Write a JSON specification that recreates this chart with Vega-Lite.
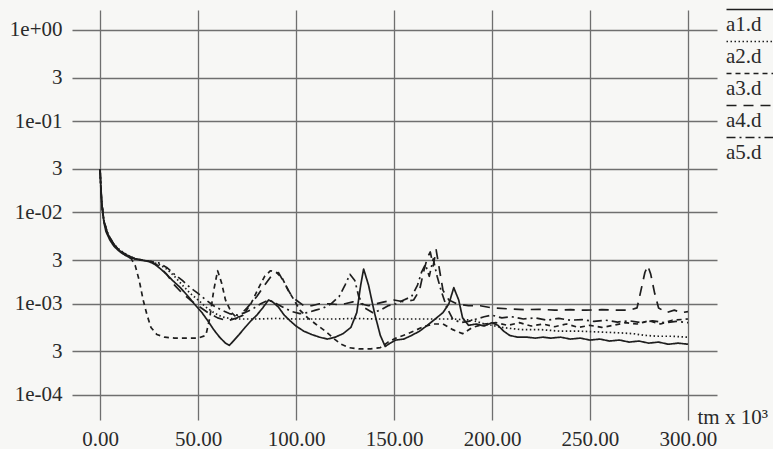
{
"$schema":"https://vega.github.io/schema/vega-lite/v6.json",
"width":645,"height":410,
"autosize":{"type":"none"},
"padding":{"left":72,"top":10,"right":56,"bottom":29},
"background":"#f7f7f5",
"config":{
"view":{"stroke":null},
"font":"Liberation Serif, DejaVu Serif, serif",
"style":{"guide-label":{"font":"Liberation Serif, DejaVu Serif, serif","fontSize":21},"guide-title":{"font":"Liberation Serif, DejaVu Serif, serif","fontSize":21,"fontWeight":"normal"}},
"axis":{"labelFont":"Liberation Serif, DejaVu Serif, serif","titleFont":"Liberation Serif, DejaVu Serif, serif","labelFontSize":21,"labelColor":"#2a2a2a","grid":true,"gridColor":"#6f6f6f","gridWidth":1.3,"gridOpacity":1,"domain":false,"ticks":false,"labelFlush":false,"labelOverlap":false,"labelBound":false},
"legend":{"orient":"none","legendX":649,"legendY":-7,"symbolType":"M-1,-0.8H9","symbolSize":100,"symbolStrokeWidth":1.5,"symbolStrokeColor":"#1e1e1e","labelBaseline":"top","labelOffset":-16,"labelFont":"Liberation Serif, DejaVu Serif, serif","labelFontSize":21,"labelColor":"#2a2a2a","rowPadding":0,"padding":0}
},
"data":{"values":[
{"s":"a1.d","t":0,"v":0.03},{"s":"a1.d","t":0.5,"v":0.018},{"s":"a1.d","t":1,"v":0.012},{"s":"a1.d","t":2,"v":0.0078},{"s":"a1.d","t":3,"v":0.0062},{"s":"a1.d","t":5,"v":0.005},{"s":"a1.d","t":7,"v":0.0043},{"s":"a1.d","t":9,"v":0.0039},{"s":"a1.d","t":11,"v":0.0036},{"s":"a1.d","t":13,"v":0.0034},{"s":"a1.d","t":15,"v":0.0032},{"s":"a1.d","t":18,"v":0.0031},{"s":"a1.d","t":21,"v":0.003},{"s":"a1.d","t":25,"v":0.0029},{"s":"a1.d","t":28,"v":0.0027},{"s":"a1.d","t":31,"v":0.0024},{"s":"a1.d","t":34,"v":0.0021},{"s":"a1.d","t":37,"v":0.0018},{"s":"a1.d","t":41,"v":0.0015},{"s":"a1.d","t":45,"v":0.0012},{"s":"a1.d","t":48,"v":0.001},{"s":"a1.d","t":52,"v":0.0008},{"s":"a1.d","t":55,"v":0.00065},{"s":"a1.d","t":58,"v":0.00052},{"s":"a1.d","t":61,"v":0.00043},{"s":"a1.d","t":64,"v":0.00037},{"s":"a1.d","t":66,"v":0.00035},{"s":"a1.d","t":68,"v":0.00039},{"s":"a1.d","t":71,"v":0.00046},{"s":"a1.d","t":74,"v":0.00055},{"s":"a1.d","t":77,"v":0.00065},{"s":"a1.d","t":80,"v":0.00075},{"s":"a1.d","t":83,"v":0.0009},{"s":"a1.d","t":86,"v":0.0011},{"s":"a1.d","t":88,"v":0.00105},{"s":"a1.d","t":91,"v":0.00092},{"s":"a1.d","t":94,"v":0.00075},{"s":"a1.d","t":97,"v":0.00065},{"s":"a1.d","t":100,"v":0.00057},{"s":"a1.d","t":104,"v":0.0005},{"s":"a1.d","t":108,"v":0.00046},{"s":"a1.d","t":112,"v":0.00043},{"s":"a1.d","t":116,"v":0.00041},{"s":"a1.d","t":120,"v":0.00043},{"s":"a1.d","t":124,"v":0.00047},{"s":"a1.d","t":128,"v":0.00055},{"s":"a1.d","t":131,"v":0.0008},{"s":"a1.d","t":133,"v":0.0016},{"s":"a1.d","t":134.5,"v":0.0024},{"s":"a1.d","t":137,"v":0.0016},{"s":"a1.d","t":140,"v":0.0008},{"s":"a1.d","t":143,"v":0.00045},{"s":"a1.d","t":145.5,"v":0.00034},{"s":"a1.d","t":148,"v":0.00037},{"s":"a1.d","t":151,"v":0.0004},{"s":"a1.d","t":155,"v":0.00041},{"s":"a1.d","t":159,"v":0.00045},{"s":"a1.d","t":163,"v":0.0005},{"s":"a1.d","t":167,"v":0.00058},{"s":"a1.d","t":171,"v":0.00068},{"s":"a1.d","t":175,"v":0.0008},{"s":"a1.d","t":178,"v":0.001},{"s":"a1.d","t":180.5,"v":0.0015},{"s":"a1.d","t":183,"v":0.0011},{"s":"a1.d","t":185,"v":0.0007},{"s":"a1.d","t":188,"v":0.00058},{"s":"a1.d","t":192,"v":0.0006},{"s":"a1.d","t":196,"v":0.00057},{"s":"a1.d","t":200,"v":0.00062},{"s":"a1.d","t":203,"v":0.00058},{"s":"a1.d","t":206,"v":0.0005},{"s":"a1.d","t":209,"v":0.00045},{"s":"a1.d","t":213,"v":0.00043},{"s":"a1.d","t":218,"v":0.00043},{"s":"a1.d","t":222,"v":0.00042},{"s":"a1.d","t":226,"v":0.00043},{"s":"a1.d","t":230,"v":0.00042},{"s":"a1.d","t":235,"v":0.00043},{"s":"a1.d","t":240,"v":0.00041},{"s":"a1.d","t":245,"v":0.00042},{"s":"a1.d","t":250,"v":0.0004},{"s":"a1.d","t":255,"v":0.00041},{"s":"a1.d","t":260,"v":0.00039},{"s":"a1.d","t":265,"v":0.0004},{"s":"a1.d","t":270,"v":0.00038},{"s":"a1.d","t":275,"v":0.00039},{"s":"a1.d","t":280,"v":0.00037},{"s":"a1.d","t":285,"v":0.00038},{"s":"a1.d","t":290,"v":0.00036},{"s":"a1.d","t":295,"v":0.00037},{"s":"a1.d","t":300,"v":0.00036},
{"s":"a2.d","t":0,"v":0.03},{"s":"a2.d","t":0.5,"v":0.017},{"s":"a2.d","t":1,"v":0.012},{"s":"a2.d","t":2,"v":0.008},{"s":"a2.d","t":4,"v":0.0058},{"s":"a2.d","t":7,"v":0.0045},{"s":"a2.d","t":10,"v":0.0039},{"s":"a2.d","t":14,"v":0.0034},{"s":"a2.d","t":18,"v":0.0031},{"s":"a2.d","t":22,"v":0.003},{"s":"a2.d","t":26,"v":0.0029},{"s":"a2.d","t":30,"v":0.0027},{"s":"a2.d","t":34,"v":0.0024},{"s":"a2.d","t":38,"v":0.002},{"s":"a2.d","t":42,"v":0.0016},{"s":"a2.d","t":46,"v":0.0013},{"s":"a2.d","t":50,"v":0.0011},{"s":"a2.d","t":54,"v":0.00092},{"s":"a2.d","t":58,"v":0.0008},{"s":"a2.d","t":62,"v":0.00072},{"s":"a2.d","t":66,"v":0.00069},{"s":"a2.d","t":70,"v":0.00068},{"s":"a2.d","t":80,"v":0.00068},{"s":"a2.d","t":90,"v":0.00069},{"s":"a2.d","t":100,"v":0.00068},{"s":"a2.d","t":110,"v":0.00068},{"s":"a2.d","t":120,"v":0.00068},{"s":"a2.d","t":130,"v":0.00069},{"s":"a2.d","t":140,"v":0.00068},{"s":"a2.d","t":150,"v":0.00068},{"s":"a2.d","t":160,"v":0.00068},{"s":"a2.d","t":170,"v":0.00068},{"s":"a2.d","t":180,"v":0.00068},{"s":"a2.d","t":190,"v":0.00066},{"s":"a2.d","t":196,"v":0.0006},{"s":"a2.d","t":200,"v":0.00058},{"s":"a2.d","t":205,"v":0.00055},{"s":"a2.d","t":215,"v":0.00052},{"s":"a2.d","t":225,"v":0.00052},{"s":"a2.d","t":235,"v":0.0005},{"s":"a2.d","t":245,"v":0.0005},{"s":"a2.d","t":255,"v":0.00049},{"s":"a2.d","t":265,"v":0.00048},{"s":"a2.d","t":272,"v":0.00047},{"s":"a2.d","t":278,"v":0.00045},{"s":"a2.d","t":285,"v":0.00044},{"s":"a2.d","t":292,"v":0.00044},{"s":"a2.d","t":300,"v":0.00043},
{"s":"a3.d","t":0,"v":0.03},{"s":"a3.d","t":0.5,"v":0.017},{"s":"a3.d","t":1,"v":0.012},{"s":"a3.d","t":2,"v":0.008},{"s":"a3.d","t":4,"v":0.0058},{"s":"a3.d","t":7,"v":0.0045},{"s":"a3.d","t":10,"v":0.0038},{"s":"a3.d","t":13,"v":0.0034},{"s":"a3.d","t":16,"v":0.0031},{"s":"a3.d","t":18,"v":0.0026},{"s":"a3.d","t":20,"v":0.0018},{"s":"a3.d","t":22,"v":0.0011},{"s":"a3.d","t":24,"v":0.00075},{"s":"a3.d","t":26,"v":0.00055},{"s":"a3.d","t":29,"v":0.00046},{"s":"a3.d","t":33,"v":0.00043},{"s":"a3.d","t":38,"v":0.00042},{"s":"a3.d","t":44,"v":0.00042},{"s":"a3.d","t":50,"v":0.00042},{"s":"a3.d","t":54,"v":0.00045},{"s":"a3.d","t":56,"v":0.0007},{"s":"a3.d","t":58,"v":0.0014},{"s":"a3.d","t":60,"v":0.0023},{"s":"a3.d","t":62,"v":0.0017},{"s":"a3.d","t":64,"v":0.0011},{"s":"a3.d","t":67,"v":0.0008},{"s":"a3.d","t":70,"v":0.0007},{"s":"a3.d","t":73,"v":0.00075},{"s":"a3.d","t":77,"v":0.001},{"s":"a3.d","t":81,"v":0.0015},{"s":"a3.d","t":84,"v":0.002},{"s":"a3.d","t":87,"v":0.0023},{"s":"a3.d","t":90,"v":0.0022},{"s":"a3.d","t":93,"v":0.0019},{"s":"a3.d","t":96,"v":0.0014},{"s":"a3.d","t":99,"v":0.0011},{"s":"a3.d","t":102,"v":0.00085},{"s":"a3.d","t":106,"v":0.0007},{"s":"a3.d","t":110,"v":0.0006},{"s":"a3.d","t":115,"v":0.0005},{"s":"a3.d","t":119,"v":0.00042},{"s":"a3.d","t":123,"v":0.00036},{"s":"a3.d","t":127,"v":0.00033},{"s":"a3.d","t":132,"v":0.00032},{"s":"a3.d","t":138,"v":0.00032},{"s":"a3.d","t":143,"v":0.00033},{"s":"a3.d","t":147,"v":0.00038},{"s":"a3.d","t":151,"v":0.00042},{"s":"a3.d","t":156,"v":0.00046},{"s":"a3.d","t":160,"v":0.0005},{"s":"a3.d","t":165,"v":0.00056},{"s":"a3.d","t":170,"v":0.0006},{"s":"a3.d","t":175,"v":0.0006},{"s":"a3.d","t":180,"v":0.00052},{"s":"a3.d","t":185,"v":0.00047},{"s":"a3.d","t":190,"v":0.00055},{"s":"a3.d","t":196,"v":0.0006},{"s":"a3.d","t":202,"v":0.00062},{"s":"a3.d","t":208,"v":0.00058},{"s":"a3.d","t":214,"v":0.00062},{"s":"a3.d","t":220,"v":0.00057},{"s":"a3.d","t":226,"v":0.0006},{"s":"a3.d","t":232,"v":0.00056},{"s":"a3.d","t":238,"v":0.0006},{"s":"a3.d","t":244,"v":0.00055},{"s":"a3.d","t":250,"v":0.00058},{"s":"a3.d","t":256,"v":0.00055},{"s":"a3.d","t":262,"v":0.00058},{"s":"a3.d","t":268,"v":0.00062},{"s":"a3.d","t":274,"v":0.0006},{"s":"a3.d","t":280,"v":0.00065},{"s":"a3.d","t":286,"v":0.0006},{"s":"a3.d","t":292,"v":0.00066},{"s":"a3.d","t":300,"v":0.00068},
{"s":"a4.d","t":0,"v":0.03},{"s":"a4.d","t":0.5,"v":0.017},{"s":"a4.d","t":1,"v":0.012},{"s":"a4.d","t":2,"v":0.008},{"s":"a4.d","t":4,"v":0.0058},{"s":"a4.d","t":7,"v":0.0045},{"s":"a4.d","t":10,"v":0.0038},{"s":"a4.d","t":14,"v":0.0034},{"s":"a4.d","t":18,"v":0.0031},{"s":"a4.d","t":22,"v":0.003},{"s":"a4.d","t":26,"v":0.0029},{"s":"a4.d","t":30,"v":0.0026},{"s":"a4.d","t":34,"v":0.0021},{"s":"a4.d","t":38,"v":0.0016},{"s":"a4.d","t":42,"v":0.0013},{"s":"a4.d","t":46,"v":0.0011},{"s":"a4.d","t":50,"v":0.00095},{"s":"a4.d","t":55,"v":0.0008},{"s":"a4.d","t":60,"v":0.0007},{"s":"a4.d","t":65,"v":0.00065},{"s":"a4.d","t":70,"v":0.0007},{"s":"a4.d","t":75,"v":0.0009},{"s":"a4.d","t":80,"v":0.0012},{"s":"a4.d","t":84,"v":0.0016},{"s":"a4.d","t":88,"v":0.0021},{"s":"a4.d","t":91,"v":0.0022},{"s":"a4.d","t":94,"v":0.0017},{"s":"a4.d","t":97,"v":0.0013},{"s":"a4.d","t":100,"v":0.0011},{"s":"a4.d","t":104,"v":0.00095},{"s":"a4.d","t":108,"v":0.00095},{"s":"a4.d","t":112,"v":0.001},{"s":"a4.d","t":117,"v":0.001},{"s":"a4.d","t":121,"v":0.00098},{"s":"a4.d","t":125,"v":0.001},{"s":"a4.d","t":129,"v":0.00105},{"s":"a4.d","t":133,"v":0.001},{"s":"a4.d","t":137,"v":0.00095},{"s":"a4.d","t":141,"v":0.001},{"s":"a4.d","t":145,"v":0.00105},{"s":"a4.d","t":150,"v":0.0011},{"s":"a4.d","t":155,"v":0.00105},{"s":"a4.d","t":160,"v":0.0011},{"s":"a4.d","t":163,"v":0.0014},{"s":"a4.d","t":165,"v":0.0022},{"s":"a4.d","t":167,"v":0.0032},{"s":"a4.d","t":168.5,"v":0.0037},{"s":"a4.d","t":170,"v":0.0026},{"s":"a4.d","t":171.5,"v":0.0039},{"s":"a4.d","t":173,"v":0.0025},{"s":"a4.d","t":175,"v":0.0014},{"s":"a4.d","t":178,"v":0.0011},{"s":"a4.d","t":182,"v":0.001},{"s":"a4.d","t":188,"v":0.00095},{"s":"a4.d","t":194,"v":0.00095},{"s":"a4.d","t":200,"v":0.0009},{"s":"a4.d","t":208,"v":0.00088},{"s":"a4.d","t":216,"v":0.00086},{"s":"a4.d","t":224,"v":0.00087},{"s":"a4.d","t":232,"v":0.00085},{"s":"a4.d","t":240,"v":0.00086},{"s":"a4.d","t":248,"v":0.00085},{"s":"a4.d","t":256,"v":0.00086},{"s":"a4.d","t":264,"v":0.00085},{"s":"a4.d","t":270,"v":0.00085},{"s":"a4.d","t":274,"v":0.0009},{"s":"a4.d","t":276,"v":0.0014},{"s":"a4.d","t":278,"v":0.0022},{"s":"a4.d","t":279.5,"v":0.0026},{"s":"a4.d","t":281,"v":0.0021},{"s":"a4.d","t":283,"v":0.0013},{"s":"a4.d","t":285,"v":0.0009},{"s":"a4.d","t":289,"v":0.0008},{"s":"a4.d","t":293,"v":0.00085},{"s":"a4.d","t":297,"v":0.0008},{"s":"a4.d","t":300,"v":0.00082},
{"s":"a5.d","t":0,"v":0.03},{"s":"a5.d","t":0.5,"v":0.017},{"s":"a5.d","t":1,"v":0.012},{"s":"a5.d","t":2,"v":0.008},{"s":"a5.d","t":4,"v":0.0058},{"s":"a5.d","t":7,"v":0.0045},{"s":"a5.d","t":10,"v":0.0038},{"s":"a5.d","t":14,"v":0.0034},{"s":"a5.d","t":18,"v":0.0031},{"s":"a5.d","t":22,"v":0.003},{"s":"a5.d","t":26,"v":0.0029},{"s":"a5.d","t":30,"v":0.0028},{"s":"a5.d","t":34,"v":0.0025},{"s":"a5.d","t":38,"v":0.0021},{"s":"a5.d","t":42,"v":0.0018},{"s":"a5.d","t":46,"v":0.0015},{"s":"a5.d","t":50,"v":0.0013},{"s":"a5.d","t":54,"v":0.0011},{"s":"a5.d","t":58,"v":0.00095},{"s":"a5.d","t":62,"v":0.00085},{"s":"a5.d","t":66,"v":0.00078},{"s":"a5.d","t":70,"v":0.00075},{"s":"a5.d","t":74,"v":0.0008},{"s":"a5.d","t":78,"v":0.00088},{"s":"a5.d","t":82,"v":0.001},{"s":"a5.d","t":86,"v":0.0011},{"s":"a5.d","t":90,"v":0.001},{"s":"a5.d","t":94,"v":0.0009},{"s":"a5.d","t":98,"v":0.00082},{"s":"a5.d","t":102,"v":0.00078},{"s":"a5.d","t":106,"v":0.0008},{"s":"a5.d","t":110,"v":0.00085},{"s":"a5.d","t":114,"v":0.0009},{"s":"a5.d","t":118,"v":0.001},{"s":"a5.d","t":122,"v":0.0012},{"s":"a5.d","t":125,"v":0.0016},{"s":"a5.d","t":127.5,"v":0.0021},{"s":"a5.d","t":130,"v":0.0018},{"s":"a5.d","t":132,"v":0.0012},{"s":"a5.d","t":135,"v":0.0009},{"s":"a5.d","t":139,"v":0.0008},{"s":"a5.d","t":143,"v":0.00085},{"s":"a5.d","t":147,"v":0.00095},{"s":"a5.d","t":151,"v":0.001},{"s":"a5.d","t":155,"v":0.0011},{"s":"a5.d","t":159,"v":0.0012},{"s":"a5.d","t":162,"v":0.0016},{"s":"a5.d","t":164,"v":0.0022},{"s":"a5.d","t":166,"v":0.0027},{"s":"a5.d","t":168,"v":0.002},{"s":"a5.d","t":170,"v":0.0031},{"s":"a5.d","t":172,"v":0.002},{"s":"a5.d","t":174,"v":0.0014},{"s":"a5.d","t":177,"v":0.0009},{"s":"a5.d","t":180,"v":0.00068},{"s":"a5.d","t":184,"v":0.00062},{"s":"a5.d","t":188,"v":0.00064},{"s":"a5.d","t":192,"v":0.00068},{"s":"a5.d","t":196,"v":0.00072},{"s":"a5.d","t":200,"v":0.00075},{"s":"a5.d","t":205,"v":0.0007},{"s":"a5.d","t":210,"v":0.00072},{"s":"a5.d","t":216,"v":0.00068},{"s":"a5.d","t":222,"v":0.0007},{"s":"a5.d","t":228,"v":0.00066},{"s":"a5.d","t":234,"v":0.00069},{"s":"a5.d","t":240,"v":0.00066},{"s":"a5.d","t":246,"v":0.00067},{"s":"a5.d","t":252,"v":0.00064},{"s":"a5.d","t":258,"v":0.00066},{"s":"a5.d","t":264,"v":0.00063},{"s":"a5.d","t":270,"v":0.00065},{"s":"a5.d","t":276,"v":0.00062},{"s":"a5.d","t":282,"v":0.00065},{"s":"a5.d","t":288,"v":0.00062},{"s":"a5.d","t":294,"v":0.00064},{"s":"a5.d","t":300,"v":0.00062}
]},
"mark":{"type":"line","color":"#1e1e1e","strokeWidth":1.7,"strokeJoin":"round"},
"encoding":{
"x":{"field":"t","type":"quantitative","scale":{"domain":[-14.3,314.8],"nice":false,"zero":false},
"axis":{"values":[0,50,100,150,200,250,300],"format":".2f","labelPadding":8,"labelFont":"Liberation Serif, DejaVu Serif, serif","labelFontSize":21,"title":"tm x 10³","titleFont":"Liberation Serif, DejaVu Serif, serif","titleFontSize":21,"titleFontWeight":"normal","titleColor":"#2a2a2a","titleX":625,"titleY":3,"titleAlign":"left","titleBaseline":"alphabetic","titleAnchor":"start"}},
"y":{"field":"v","type":"quantitative","scale":{"type":"log","domain":[0.0000532,1.656],"nice":false},
"axis":{"values":[0.0001,0.0003,0.001,0.003,0.01,0.03,0.1,0.3,1],"labelPadding":10,"labelFont":"Liberation Serif, DejaVu Serif, serif","labelFontSize":21,"title":null,
"labelExpr":"datum.value < 0.0002 ? '1e-04' : datum.value < 0.0005 ? '3' : datum.value < 0.002 ? '1e-03' : datum.value < 0.005 ? '3' : datum.value < 0.02 ? '1e-02' : datum.value < 0.05 ? '3' : datum.value < 0.2 ? '1e-01' : datum.value < 0.5 ? '3' : '1e+00'"}},
"strokeDash":{"field":"s","type":"nominal","scale":{"domain":["a1.d","a2.d","a3.d","a4.d","a5.d"],"range":[[1,0],[1.5,2.5],[5,4],[10,7],[9,4,2,4]]},"legend":{"title":null}}
}
}
